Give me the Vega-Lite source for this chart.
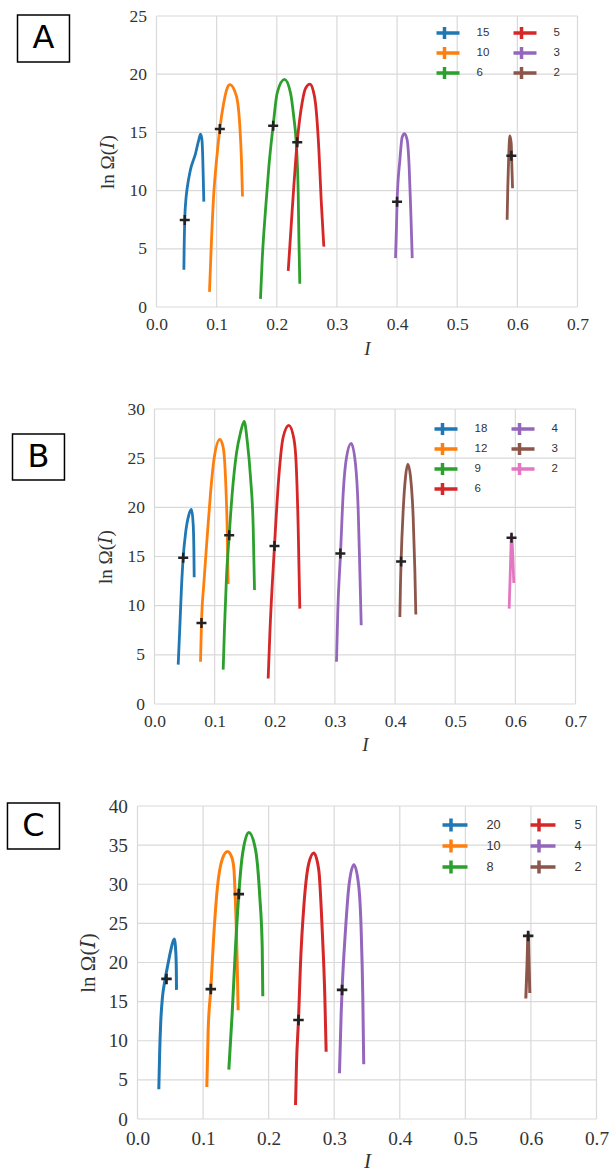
{
  "$schema": "https://vega.github.io/schema/vega-lite/v6.json",
  "background": "white",
  "padding": {"left": 6.5, "top": 7, "right": 0, "bottom": 0},
  "bounds": "flush",
  "spacing": 102,
  "config": {
    "view": {"stroke": null},
    "axis": {
      "domain": false, "ticks": false, "tickSize": 0, "grid": false, "labelFlush": false, "labelOverlap": false,
      "labelFont": "Liberation Serif", "labelFontSize": 17.5, "labelColor": "#333",
      "titleFont": "Liberation Serif, DejaVu Serif", "titleFontSize": 19, "titleFontWeight": "normal", "titleColor": "#333"
    },
    "rule": {"stroke": "#d9d9d9", "strokeWidth": 1.2},
    "legend": {
      "orient": "none", "columns": 2, "title": null,
      "symbolType": "M-2.5,0H2.5M0,-1V1", "symbolSize": 144, "symbolStrokeWidth": 3.5,
      "symbolFillColor": "transparent",
      "labelFont": "Liberation Sans", "labelFontSize": 11.5, "labelColor": "#333",
      "labelOffset": 24, "columnPadding": 24, "rowPadding": 0, "clipHeight": 20, "padding": 0
    }
  },
  "resolve": {"scale": {"color": "independent", "x": "independent", "y": "independent"}, "legend": {"color": "independent"}},
  "datasets": {
    "xgrid": [{"g": 0}, {"g": 0.1}, {"g": 0.2}, {"g": 0.3}, {"g": 0.4}, {"g": 0.5}, {"g": 0.6}, {"g": 0.7}],
    "ygridA": [{"g": 0}, {"g": 5}, {"g": 10}, {"g": 15}, {"g": 20}, {"g": 25}],
    "ygridB": [{"g": 0}, {"g": 5}, {"g": 10}, {"g": 15}, {"g": 20}, {"g": 25}, {"g": 30}],
    "ygridC": [{"g": 0}, {"g": 5}, {"g": 10}, {"g": 15}, {"g": 20}, {"g": 25}, {"g": 30}, {"g": 35}, {"g": 40}],
    "A_lines": [
      {"n": "15", "I": 0.0455, "v": 3.2}, {"n": "15", "I": 0.046, "v": 5.2}, {"n": "15", "I": 0.047, "v": 7.5}, {"n": "15", "I": 0.049, "v": 9.3}, {"n": "15", "I": 0.051, "v": 10.2}, {"n": "15", "I": 0.0565, "v": 11.8}, {"n": "15", "I": 0.065, "v": 13.2}, {"n": "15", "I": 0.07, "v": 14.3}, {"n": "15", "I": 0.0732, "v": 14.85}, {"n": "15", "I": 0.0755, "v": 14.4}, {"n": "15", "I": 0.0768, "v": 13.0}, {"n": "15", "I": 0.0778, "v": 11.0}, {"n": "15", "I": 0.0787, "v": 9.05},
      {"n": "10", "I": 0.0881, "v": 1.3}, {"n": "10", "I": 0.091, "v": 5.2}, {"n": "10", "I": 0.0953, "v": 9.8}, {"n": "10", "I": 0.0998, "v": 12.6}, {"n": "10", "I": 0.1053, "v": 15.3}, {"n": "10", "I": 0.112, "v": 17.6}, {"n": "10", "I": 0.1175, "v": 18.8}, {"n": "10", "I": 0.122, "v": 19.1}, {"n": "10", "I": 0.1297, "v": 18.6}, {"n": "10", "I": 0.1352, "v": 17.5}, {"n": "10", "I": 0.1386, "v": 15.5}, {"n": "10", "I": 0.1413, "v": 12.6}, {"n": "10", "I": 0.143, "v": 9.5},
      {"n": "6", "I": 0.1729, "v": 0.7}, {"n": "6", "I": 0.1757, "v": 4.0}, {"n": "6", "I": 0.1812, "v": 8.3}, {"n": "6", "I": 0.1868, "v": 12.05}, {"n": "6", "I": 0.194, "v": 15.6}, {"n": "6", "I": 0.2007, "v": 18.4}, {"n": "6", "I": 0.2128, "v": 19.55}, {"n": "6", "I": 0.2228, "v": 18.4}, {"n": "6", "I": 0.2283, "v": 16.3}, {"n": "6", "I": 0.2322, "v": 14.2}, {"n": "6", "I": 0.2356, "v": 9.8}, {"n": "6", "I": 0.2368, "v": 5.8}, {"n": "6", "I": 0.2383, "v": 2.0},
      {"n": "5", "I": 0.219, "v": 3.1}, {"n": "5", "I": 0.2256, "v": 8.3}, {"n": "5", "I": 0.234, "v": 14.2}, {"n": "5", "I": 0.2423, "v": 17.6}, {"n": "5", "I": 0.248, "v": 18.8}, {"n": "5", "I": 0.255, "v": 19.15}, {"n": "5", "I": 0.2605, "v": 18.6}, {"n": "5", "I": 0.2644, "v": 17.5}, {"n": "5", "I": 0.27, "v": 13.5}, {"n": "5", "I": 0.2738, "v": 9.2}, {"n": "5", "I": 0.2782, "v": 5.2},
      {"n": "3", "I": 0.3974, "v": 4.2}, {"n": "3", "I": 0.399, "v": 6.9}, {"n": "3", "I": 0.4, "v": 9.05}, {"n": "3", "I": 0.4046, "v": 12.6}, {"n": "3", "I": 0.4085, "v": 14.6}, {"n": "3", "I": 0.4124, "v": 14.9}, {"n": "3", "I": 0.4168, "v": 14.35}, {"n": "3", "I": 0.4201, "v": 12.05}, {"n": "3", "I": 0.4229, "v": 8.05}, {"n": "3", "I": 0.4252, "v": 4.2},
      {"n": "2", "I": 0.583, "v": 7.5}, {"n": "2", "I": 0.5841, "v": 10.3}, {"n": "2", "I": 0.5858, "v": 13.2}, {"n": "2", "I": 0.5875, "v": 14.7}, {"n": "2", "I": 0.5898, "v": 14.06}, {"n": "2", "I": 0.5909, "v": 12.05}, {"n": "2", "I": 0.592, "v": 10.2}
    ],
    "A_marks": [
      {"n": "15", "I": 0.047, "v": 7.47}, {"n": "10", "I": 0.1053, "v": 15.29}, {"n": "6", "I": 0.194, "v": 15.58}, {"n": "5", "I": 0.234, "v": 14.15}, {"n": "3", "I": 0.4, "v": 9.05}, {"n": "2", "I": 0.59, "v": 13.0}
    ],
    "B_lines": [
      {"n": "18", "I": 0.0394, "v": 4.0}, {"n": "18", "I": 0.0421, "v": 7.8}, {"n": "18", "I": 0.0449, "v": 11.9}, {"n": "18", "I": 0.0477, "v": 14.9}, {"n": "18", "I": 0.0515, "v": 17.3}, {"n": "18", "I": 0.057, "v": 19.2}, {"n": "18", "I": 0.0615, "v": 19.8}, {"n": "18", "I": 0.0643, "v": 18.3}, {"n": "18", "I": 0.0654, "v": 16.0}, {"n": "18", "I": 0.066, "v": 12.9},
      {"n": "12", "I": 0.0765, "v": 4.3}, {"n": "12", "I": 0.0781, "v": 8.2}, {"n": "12", "I": 0.082, "v": 12.2}, {"n": "12", "I": 0.0876, "v": 17.0}, {"n": "12", "I": 0.0931, "v": 21.4}, {"n": "12", "I": 0.0987, "v": 24.8}, {"n": "12", "I": 0.1086, "v": 26.9}, {"n": "12", "I": 0.1142, "v": 26.1}, {"n": "12", "I": 0.118, "v": 23.1}, {"n": "12", "I": 0.1208, "v": 18.0}, {"n": "12", "I": 0.1225, "v": 12.2},
      {"n": "9", "I": 0.1142, "v": 3.5}, {"n": "9", "I": 0.1164, "v": 7.8}, {"n": "9", "I": 0.1197, "v": 12.9}, {"n": "9", "I": 0.1242, "v": 17.15}, {"n": "9", "I": 0.1292, "v": 21.4}, {"n": "9", "I": 0.1363, "v": 25.5}, {"n": "9", "I": 0.143, "v": 27.6}, {"n": "9", "I": 0.1491, "v": 28.75}, {"n": "9", "I": 0.1541, "v": 26.8}, {"n": "9", "I": 0.1596, "v": 23.1}, {"n": "9", "I": 0.1641, "v": 18.0}, {"n": "9", "I": 0.1663, "v": 11.6},
      {"n": "6", "I": 0.189, "v": 2.6}, {"n": "6", "I": 0.1918, "v": 7.15}, {"n": "6", "I": 0.1995, "v": 16.07}, {"n": "6", "I": 0.2067, "v": 23.1}, {"n": "6", "I": 0.214, "v": 27.15}, {"n": "6", "I": 0.2233, "v": 28.34}, {"n": "6", "I": 0.2317, "v": 27.0}, {"n": "6", "I": 0.2355, "v": 24.5}, {"n": "6", "I": 0.2389, "v": 18.0}, {"n": "6", "I": 0.2416, "v": 9.7},
      {"n": "4", "I": 0.3026, "v": 4.3}, {"n": "4", "I": 0.3048, "v": 9.5}, {"n": "4", "I": 0.3093, "v": 15.3}, {"n": "4", "I": 0.3137, "v": 21.4}, {"n": "4", "I": 0.3193, "v": 25.1}, {"n": "4", "I": 0.327, "v": 26.5}, {"n": "4", "I": 0.3342, "v": 24.4}, {"n": "4", "I": 0.3387, "v": 19.7}, {"n": "4", "I": 0.3414, "v": 13.6}, {"n": "4", "I": 0.3437, "v": 8.0},
      {"n": "3", "I": 0.408, "v": 8.85}, {"n": "3", "I": 0.409, "v": 12.2}, {"n": "3", "I": 0.41, "v": 14.5}, {"n": "3", "I": 0.4135, "v": 19.7}, {"n": "3", "I": 0.4174, "v": 23.1}, {"n": "3", "I": 0.4212, "v": 24.4}, {"n": "3", "I": 0.4257, "v": 23.1}, {"n": "3", "I": 0.4301, "v": 19.0}, {"n": "3", "I": 0.4329, "v": 13.6}, {"n": "3", "I": 0.4345, "v": 9.1},
      {"n": "2", "I": 0.5897, "v": 9.7}, {"n": "2", "I": 0.592, "v": 14.3}, {"n": "2", "I": 0.5936, "v": 17.3}, {"n": "2", "I": 0.5958, "v": 14.95}, {"n": "2", "I": 0.5974, "v": 12.3}
    ],
    "B_marks": [
      {"n": "18", "I": 0.0477, "v": 14.88}, {"n": "12", "I": 0.0781, "v": 8.24}, {"n": "9", "I": 0.1242, "v": 17.15}, {"n": "6", "I": 0.1995, "v": 16.07}, {"n": "4", "I": 0.309, "v": 15.3}, {"n": "3", "I": 0.41, "v": 14.5}, {"n": "2", "I": 0.5936, "v": 16.9}
    ],
    "C_lines": [
      {"n": "20", "I": 0.0325, "v": 3.8}, {"n": "20", "I": 0.0338, "v": 8.5}, {"n": "20", "I": 0.0355, "v": 12.5}, {"n": "20", "I": 0.038, "v": 15.5}, {"n": "20", "I": 0.042, "v": 17.8}, {"n": "20", "I": 0.0465, "v": 19.8}, {"n": "20", "I": 0.0503, "v": 21.4}, {"n": "20", "I": 0.056, "v": 23.0}, {"n": "20", "I": 0.0585, "v": 21.2}, {"n": "20", "I": 0.0592, "v": 19.0}, {"n": "20", "I": 0.0595, "v": 16.5},
      {"n": "10", "I": 0.1057, "v": 4.1}, {"n": "10", "I": 0.1078, "v": 11.4}, {"n": "10", "I": 0.1118, "v": 16.6}, {"n": "10", "I": 0.1159, "v": 22.9}, {"n": "10", "I": 0.122, "v": 29.7}, {"n": "10", "I": 0.1296, "v": 33.3}, {"n": "10", "I": 0.1373, "v": 34.2}, {"n": "10", "I": 0.1435, "v": 33.5}, {"n": "10", "I": 0.147, "v": 32.0}, {"n": "10", "I": 0.149, "v": 28.5}, {"n": "10", "I": 0.1505, "v": 25.0}, {"n": "10", "I": 0.152, "v": 20.0}, {"n": "10", "I": 0.1535, "v": 13.9},
      {"n": "8", "I": 0.1393, "v": 6.3}, {"n": "8", "I": 0.1444, "v": 13.5}, {"n": "8", "I": 0.1495, "v": 22.0}, {"n": "8", "I": 0.1545, "v": 28.75}, {"n": "8", "I": 0.1596, "v": 33.5}, {"n": "8", "I": 0.1698, "v": 36.6}, {"n": "8", "I": 0.18, "v": 34.4}, {"n": "8", "I": 0.1865, "v": 28.4}, {"n": "8", "I": 0.1902, "v": 22.0}, {"n": "8", "I": 0.1911, "v": 15.7},
      {"n": "5", "I": 0.241, "v": 1.8}, {"n": "5", "I": 0.2425, "v": 7.1}, {"n": "5", "I": 0.2455, "v": 12.65}, {"n": "5", "I": 0.2486, "v": 19.9}, {"n": "5", "I": 0.2536, "v": 27.1}, {"n": "5", "I": 0.2613, "v": 32.7}, {"n": "5", "I": 0.2689, "v": 34.0}, {"n": "5", "I": 0.2765, "v": 31.8}, {"n": "5", "I": 0.2817, "v": 24.15}, {"n": "5", "I": 0.2857, "v": 15.6}, {"n": "5", "I": 0.2877, "v": 8.6},
      {"n": "4", "I": 0.308, "v": 5.84}, {"n": "4", "I": 0.3106, "v": 13.5}, {"n": "4", "I": 0.312, "v": 16.5}, {"n": "4", "I": 0.3172, "v": 24.15}, {"n": "4", "I": 0.3223, "v": 29.7}, {"n": "4", "I": 0.33, "v": 32.5}, {"n": "4", "I": 0.3375, "v": 29.7}, {"n": "4", "I": 0.3411, "v": 24.15}, {"n": "4", "I": 0.3436, "v": 15.6}, {"n": "4", "I": 0.345, "v": 7.0},
      {"n": "2", "I": 0.5922, "v": 15.4}, {"n": "2", "I": 0.594, "v": 19.5}, {"n": "2", "I": 0.5958, "v": 23.8}, {"n": "2", "I": 0.597, "v": 20.5}, {"n": "2", "I": 0.5983, "v": 16.1}
    ],
    "C_marks": [
      {"n": "20", "I": 0.0442, "v": 17.9}, {"n": "10", "I": 0.1118, "v": 16.6}, {"n": "8", "I": 0.1545, "v": 28.75}, {"n": "5", "I": 0.2455, "v": 12.65}, {"n": "4", "I": 0.312, "v": 16.5}, {"n": "2", "I": 0.5958, "v": 23.4}
    ]
  },
  "vconcat": [
    {
      "width": 459, "height": 291,
      "layer": [
        {
          "data": {"name": "xgrid"},
          "mark": {"type": "rule"},
          "encoding": {
            "x": {"field": "g", "type": "quantitative",
                  "scale": {"domain": [0, 0.7], "range": [19, 440], "nice": false, "zero": false},
                  "axis": {"values": [0, 0.1, 0.2, 0.3, 0.4, 0.5, 0.6, 0.7], "tickCount": 12, "format": ".1f", "labelPadding": 8, "labelOverlap": false, "title": "I", "titleFontStyle": "italic", "titlePadding": 7}},
            "y": {"datum": 0}, "y2": {"datum": 25}
          }
        },
        {
          "data": {"name": "ygridA"},
          "mark": {"type": "rule"},
          "encoding": {
            "y": {"field": "g", "type": "quantitative",
                  "scale": {"domain": [0, 25], "nice": false, "zero": false},
                  "axis": {"values": [0, 5, 10, 15, 20, 25], "tickCount": 10, "offset": -19, "labelPadding": 10, "labelOverlap": false, "title": "ln Ω(𝐼)", "titlePadding": 12}},
            "x": {"datum": 0}, "x2": {"datum": 0.7}
          }
        },
        {
          "data": {"name": "A_lines"},
          "mark": {"type": "line", "strokeWidth": 2.8, "interpolate": "monotone"},
          "encoding": {
            "x": {"field": "I", "type": "quantitative"},
            "y": {"field": "v", "type": "quantitative"},
            "color": {"field": "n", "type": "nominal",
                      "scale": {"domain": ["15", "10", "6", "5", "3", "2"], "range": ["#1f77b4", "#ff7f0e", "#2ca02c", "#d62728", "#9467bd", "#8c564b"]},
                      "legend": {"legendX": 299, "legendY": 7}}
          }
        },
        {
          "data": {"name": "A_marks"},
          "mark": {"type": "point", "shape": "M-1,0H1M0,-1V1", "filled": false, "stroke": "#222", "strokeWidth": 2.5, "size": 100, "opacity": 1},
          "encoding": {"x": {"field": "I", "type": "quantitative"}, "y": {"field": "v", "type": "quantitative"}}
        },
        {
          "data": {"values": [{"label": "A"}]},
          "mark": {"type": "rect", "fill": "white", "stroke": "black", "strokeWidth": 1.5},
          "encoding": {"x": {"datum": -0.2311}, "x2": {"datum": -0.1447}, "y": {"datum": 25.09}, "y2": {"datum": 21.05}}
        },
        {
          "data": {"values": [{"label": "A"}]},
          "mark": {"type": "text", "font": "DejaVu Sans", "fontSize": 32, "align": "center", "baseline": "middle", "color": "black"},
          "encoding": {"x": {"datum": -0.1879}, "y": {"datum": 23.07}, "text": {"field": "label"}}
        }
      ]
    },
    {
      "width": 459, "height": 295,
      "layer": [
        {
          "data": {"name": "xgrid"},
          "mark": {"type": "rule"},
          "encoding": {
            "x": {"field": "g", "type": "quantitative",
                  "scale": {"domain": [0, 0.7], "range": [17, 438], "nice": false, "zero": false},
                  "axis": {"values": [0, 0.1, 0.2, 0.3, 0.4, 0.5, 0.6, 0.7], "tickCount": 12, "format": ".1f", "labelPadding": 8, "labelOverlap": false, "title": "I", "titleFontStyle": "italic", "titlePadding": 6}},
            "y": {"datum": 0}, "y2": {"datum": 30}
          }
        },
        {
          "data": {"name": "ygridB"},
          "mark": {"type": "rule"},
          "encoding": {
            "y": {"field": "g", "type": "quantitative",
                  "scale": {"domain": [0, 30], "nice": false, "zero": false},
                  "axis": {"values": [0, 5, 10, 15, 20, 25, 30], "tickCount": 10, "offset": -17, "labelPadding": 10, "labelOverlap": false, "title": "ln Ω(𝐼)", "titlePadding": 12}},
            "x": {"datum": 0}, "x2": {"datum": 0.7}
          }
        },
        {
          "data": {"name": "B_lines"},
          "mark": {"type": "line", "strokeWidth": 2.8, "interpolate": "monotone"},
          "encoding": {
            "x": {"field": "I", "type": "quantitative"},
            "y": {"field": "v", "type": "quantitative"},
            "color": {"field": "n", "type": "nominal",
                      "scale": {"domain": ["18", "12", "9", "6", "4", "3", "2"], "range": ["#1f77b4", "#ff7f0e", "#2ca02c", "#d62728", "#9467bd", "#8c564b", "#e377c2"]},
                      "legend": {"legendX": 297, "legendY": 10}}
          }
        },
        {
          "data": {"name": "B_marks"},
          "mark": {"type": "point", "shape": "M-1,0H1M0,-1V1", "filled": false, "stroke": "#222", "strokeWidth": 2.5, "size": 100, "opacity": 1},
          "encoding": {"x": {"field": "I", "type": "quantitative"}, "y": {"field": "v", "type": "quantitative"}}
        },
        {
          "data": {"values": [{"label": "B"}]},
          "mark": {"type": "rect", "fill": "white", "stroke": "black", "strokeWidth": 1.5},
          "encoding": {"x": {"datum": -0.2361}, "x2": {"datum": -0.1497}, "y": {"datum": 27.46}, "y2": {"datum": 22.78}}
        },
        {
          "data": {"values": [{"label": "B"}]},
          "mark": {"type": "text", "font": "DejaVu Sans", "fontSize": 32, "align": "center", "baseline": "middle", "color": "black"},
          "encoding": {"x": {"datum": -0.1929}, "y": {"datum": 25.12}, "text": {"field": "label"}}
        }
      ]
    },
    {
      "width": 459, "height": 313,
      "layer": [
        {
          "data": {"name": "xgrid"},
          "mark": {"type": "rule"},
          "encoding": {
            "x": {"field": "g", "type": "quantitative",
                  "scale": {"domain": [0, 0.7], "nice": false, "zero": false},
                  "axis": {"values": [0, 0.1, 0.2, 0.3, 0.4, 0.5, 0.6, 0.7], "tickCount": 12, "format": ".1f", "labelPadding": 10, "labelOverlap": false, "labelFontSize": 19.3, "titleFontSize": 21, "title": "I", "titleFontStyle": "italic", "titlePadding": 2}},
            "y": {"datum": 0}, "y2": {"datum": 40}
          }
        },
        {
          "data": {"name": "ygridC"},
          "mark": {"type": "rule"},
          "encoding": {
            "y": {"field": "g", "type": "quantitative",
                  "scale": {"domain": [0, 40], "nice": false, "zero": false},
                  "axis": {"values": [0, 5, 10, 15, 20, 25, 30, 35, 40], "tickCount": 12, "labelPadding": 10, "labelOverlap": false, "labelFontSize": 19.3, "titleFontSize": 21, "title": "ln Ω(𝐼)", "titlePadding": 10}},
            "x": {"datum": 0}, "x2": {"datum": 0.7}
          }
        },
        {
          "data": {"name": "C_lines"},
          "mark": {"type": "line", "strokeWidth": 3, "interpolate": "monotone"},
          "encoding": {
            "x": {"field": "I", "type": "quantitative"},
            "y": {"field": "v", "type": "quantitative"},
            "color": {"field": "n", "type": "nominal",
                      "scale": {"domain": ["20", "10", "8", "5", "4", "2"], "range": ["#1f77b4", "#ff7f0e", "#2ca02c", "#d62728", "#9467bd", "#8c564b"]},
                      "legend": {"legendX": 305, "legendY": 8.5, "symbolSize": 174, "labelFontSize": 12.7, "columnPadding": 29, "labelOffset": 27, "rowPadding": 0, "clipHeight": 21}}
          }
        },
        {
          "data": {"name": "C_marks"},
          "mark": {"type": "point", "shape": "M-1,0H1M0,-1V1", "filled": false, "stroke": "#222", "strokeWidth": 2.7, "size": 110, "opacity": 1},
          "encoding": {"x": {"field": "I", "type": "quantitative"}, "y": {"field": "v", "type": "quantitative"}}
        },
        {
          "data": {"values": [{"label": "C"}]},
          "mark": {"type": "rect", "fill": "white", "stroke": "black", "strokeWidth": 1.5},
          "encoding": {"x": {"datum": -0.1983}, "x2": {"datum": -0.119}, "y": {"datum": 40.38}, "y2": {"datum": 34.5}}
        },
        {
          "data": {"values": [{"label": "C"}]},
          "mark": {"type": "text", "font": "DejaVu Sans", "fontSize": 32, "align": "center", "baseline": "middle", "color": "black"},
          "encoding": {"x": {"datum": -0.1586}, "y": {"datum": 37.44}, "text": {"field": "label"}}
        }
      ]
    }
  ]
}
